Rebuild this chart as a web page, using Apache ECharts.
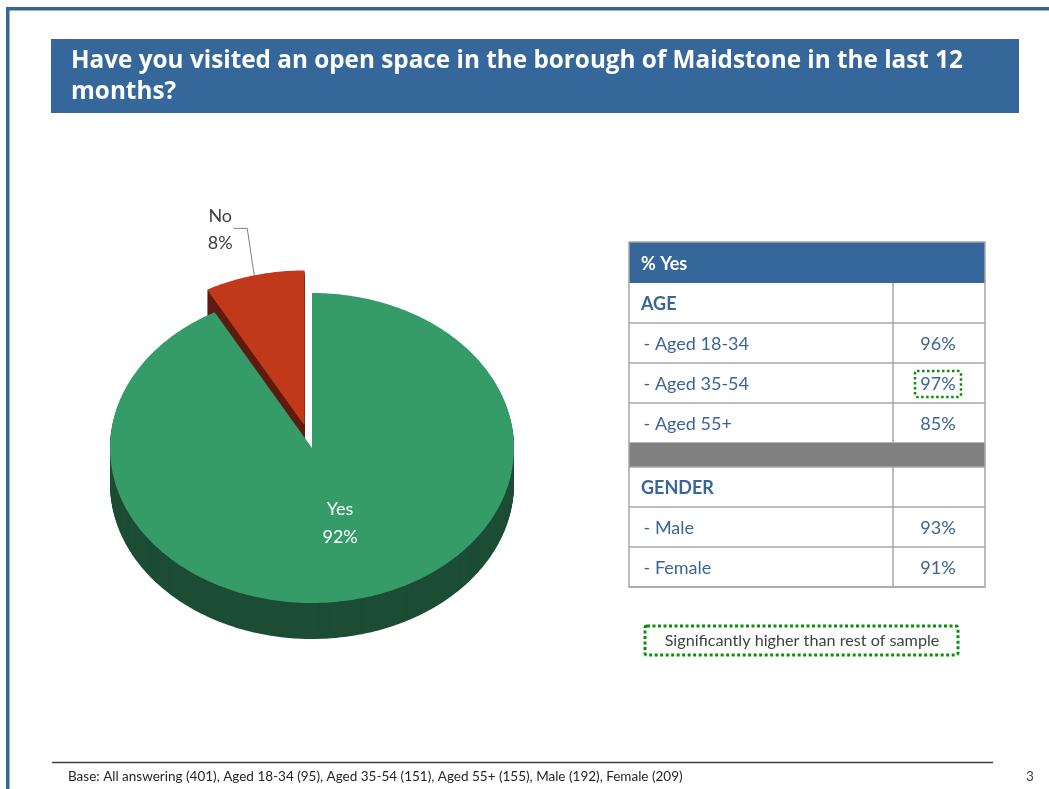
<!DOCTYPE html>
<html>
<head>
<meta charset="utf-8">
<title>Open space visits – Maidstone</title>
<script src="https://cdn.jsdelivr.net/npm/echarts@6/dist/echarts.min.js"></script>
<style>
  html, body { margin: 0; padding: 0; background: #ffffff; }
  #chart { width: 1049px; height: 789px; }
</style>
</head>
<body>
<div id="chart"></div>
<script>
// ---- data ----
const titleText = 'Have you visited an open space in the borough of Maidstone in the last 12\nmonths?';
const pieNames = ['Yes', 'No'];
const pieValues = [92, 8];

const tableHeader = '% Yes';
const ageHeading = 'AGE';
const ageLabels = [' - Aged 18-34', ' - Aged 35-54', ' - Aged 55+'];
const ageYes = [96, 97, 85];
const ageSignificant = [false, true, false];
const genderHeading = 'GENDER';
const genderLabels = [' - Male', ' - Female'];
const genderYes = [93, 91];
const genderSignificant = [false, false];

const legendText = 'Significantly higher than rest of sample';
const baseNote = 'Base: All answering (401), Aged 18-34 (95), Aged 35-54 (151), Aged 55+ (155), Male (192), Female (209)';
const pageNumber = '3';

// ---- styling ----
const BLUE = '#35679A';
const TEXT_BLUE = '#3A6598';
const GREEN_DOT = '#0C8E0C';
const FONT = 'Lato, "Open Sans", sans-serif';
const TITLE_FONT = '"Open Sans", Lato, sans-serif';

// pie geometry (tilted disc)
const PIE = { cx: 312, cy: 448, rx: 202, ry: 155, depth: 36 };
const sliceStyle = [
  { top: '#359B68', side: '#1D4D35', explode: 0, label: 'inside', labelColor: '#ffffff' },
  { top: '#C1391B', side: '#5E1B0F', explode: 0.15, label: 'outside', labelColor: '#404040' }
];

const total = pieValues.reduce((a, b) => a + b, 0);

function arcPoint(a, cx, cy, f) {
  return [cx + PIE.rx * f * Math.sin(a), cy - PIE.ry * f * Math.cos(a)];
}

function slicePolygon(a0, a1, cx, cy) {
  const pts = [[cx, cy]];
  const n = Math.max(4, Math.ceil((a1 - a0) / (Math.PI / 240)));
  for (let j = 0; j <= n; j++) {
    pts.push(arcPoint(a0 + (a1 - a0) * j / n, cx, cy, 1));
  }
  return pts;
}

function renderSlice(params, api) {
  const i = params.dataIndex;
  const v = api.value(0);
  let before = 0;
  for (let k = 0; k < i; k++) before += pieValues[k];
  const a0 = before / total * Math.PI * 2;
  const a1 = (before + v) / total * Math.PI * 2;
  const mid = (a0 + a1) / 2;
  const st = sliceStyle[i];
  const off = arcPoint(mid, 0, 0, st.explode);
  const cx = PIE.cx + off[0];
  const cy = PIE.cy + off[1];
  const base = i === 0 ? 100 : 0;

  const top = slicePolygon(a0, a1, cx, cy);
  const children = [];
  // extruded body: the top face swept down through the disc depth
  for (let s = PIE.depth; s >= 1; s--) {
    children.push({
      type: 'polygon',
      z2: base + 1,
      shape: { points: top.map(p => [p[0], p[1] + s]) },
      style: { fill: st.side }
    });
  }
  children.push({
    type: 'polygon',
    z2: base + 2,
    shape: { points: top },
    style: { fill: st.top }
  });

  const labelText = pieNames[i] + '\n' + v + '%';
  if (st.label === 'inside') {
    const p = arcPoint(mid, cx, cy, 0.5);
    children.push({
      type: 'text',
      z2: base + 3,
      x: p[0] + 3, y: p[1],
      style: {
        text: labelText, fill: st.labelColor, font: '18px ' + FONT,
        align: 'center', verticalAlign: 'middle', lineHeight: 28
      }
    });
  } else {
    const rim = arcPoint(mid, cx, cy, 1);
    const elbow = [rim[0] - 7, rim[1] - 47];
    const end = [elbow[0] - 14, elbow[1]];
    children.push({
      type: 'polyline',
      z2: base + 3,
      shape: { points: [rim, elbow, end] },
      style: { stroke: '#808080', lineWidth: 1, fill: null }
    });
    children.push({
      type: 'text',
      z2: base + 3,
      x: end[0] - 13, y: end[1] + 1,
      style: {
        text: labelText, fill: st.labelColor, font: '18px ' + FONT,
        align: 'center', verticalAlign: 'middle', lineHeight: 27
      }
    });
  }
  return { type: 'group', children };
}

// ---- table of % Yes by sub-group ----
function buildTable() {
  const L = 629, R = 985, SPLIT = 893;
  const HEAD_TOP = 242, HEAD_H = 41, ROW_H = 40, GAP_H = 24;
  const grid = '#A6A6A6';
  const els = [];
  const rows = [];
  rows.push({ kind: 'heading', text: ageHeading });
  ageLabels.forEach((t, i) => rows.push({ kind: 'item', text: t, value: ageYes[i], sig: ageSignificant[i] }));
  rows.push({ kind: 'gap' });
  rows.push({ kind: 'heading', text: genderHeading });
  genderLabels.forEach((t, i) => rows.push({ kind: 'item', text: t, value: genderYes[i], sig: genderSignificant[i] }));

  els.push({ type: 'rect', shape: { x: L, y: HEAD_TOP, width: R - L, height: HEAD_H }, style: { fill: BLUE } });
  els.push({
    type: 'text', x: L + 12, y: HEAD_TOP + HEAD_H / 2 + 2,
    style: { text: tableHeader, fill: '#ffffff', font: 'bold 18px ' + FONT, verticalAlign: 'middle' }
  });

  let y = HEAD_TOP + HEAD_H;
  rows.forEach(r => {
    const h = r.kind === 'gap' ? GAP_H : ROW_H;
    if (r.kind === 'gap') {
      els.push({ type: 'rect', shape: { x: L, y: y, width: R - L, height: h }, style: { fill: '#808080' } });
    } else {
      els.push({ type: 'line', shape: { x1: SPLIT, y1: y, x2: SPLIT, y2: y + h }, style: { stroke: grid, lineWidth: 1.5 } });
      if (r.kind === 'heading') {
        els.push({
          type: 'text', x: L + 12, y: y + h / 2 + 1,
          style: { text: r.text, fill: TEXT_BLUE, font: 'bold 18px ' + FONT, verticalAlign: 'middle' }
        });
      } else {
        els.push({
          type: 'text', x: L + 10, y: y + h / 2 + 1,
          style: { text: r.text, fill: TEXT_BLUE, font: '18px ' + FONT, verticalAlign: 'middle' }
        });
        const vx = (SPLIT + R) / 2 - 1;
        els.push({
          type: 'text', x: vx, y: y + h / 2 + 1,
          style: { text: r.value + '%', fill: TEXT_BLUE, font: '18px ' + FONT, align: 'center', verticalAlign: 'middle' }
        });
        if (r.sig) {
          els.push({
            type: 'rect', shape: { x: vx - 23, y: y + 8, width: 46, height: 26, r: 2 },
            style: { fill: null, stroke: GREEN_DOT, lineWidth: 2.5, lineDash: [2.5, 2.5] }
          });
        }
      }
    }
    els.push({ type: 'line', shape: { x1: L, y1: y + h, x2: R, y2: y + h }, style: { stroke: grid, lineWidth: 1.5 } });
    y += h;
  });
  // outer frame
  els.push({
    type: 'rect', shape: { x: L, y: HEAD_TOP, width: R - L, height: y - HEAD_TOP },
    style: { fill: null, stroke: grid, lineWidth: 1.5 }
  });
  return els;
}

const graphics = [
  // slide frame
  { type: 'rect', shape: { x: 6, y: 7, width: 1043, height: 3.5 }, style: { fill: BLUE } },
  { type: 'rect', shape: { x: 6, y: 7, width: 3.5, height: 782 }, style: { fill: BLUE } },
  // title banner
  { type: 'rect', shape: { x: 51, y: 39, width: 968, height: 74 }, style: { fill: BLUE } },
  {
    type: 'text', x: 71, y: 77,
    style: { text: titleText, fill: '#ffffff', font: 'bold 24.3px ' + TITLE_FONT, verticalAlign: 'middle', lineHeight: 31 }
  },
  ...buildTable(),
  // significance key
  {
    type: 'rect', shape: { x: 645, y: 626, width: 313, height: 29, r: 2 },
    style: { fill: null, stroke: GREEN_DOT, lineWidth: 3, lineDash: [3, 2.5] }
  },
  {
    type: 'text', x: 802, y: 641,
    style: { text: legendText, fill: '#404040', font: '16.2px ' + FONT, align: 'center', verticalAlign: 'middle' }
  },
  // footer
  { type: 'line', shape: { x1: 52, y1: 762.5, x2: 993, y2: 762.5 }, style: { stroke: '#404040', lineWidth: 1.5 } },
  {
    type: 'text', x: 68, y: 777,
    style: { text: baseNote, fill: '#262626', font: '13.5px ' + FONT, verticalAlign: 'middle' }
  },
  {
    type: 'text', x: 1030, y: 777,
    style: { text: pageNumber, fill: '#404040', font: '13.5px ' + FONT, align: 'center', verticalAlign: 'middle' }
  }
];

const chart = echarts.init(document.getElementById('chart'), null, { renderer: 'canvas' });
chart.setOption({
  backgroundColor: '#ffffff',
  animation: false,
  series: [{
    type: 'custom',
    coordinateSystem: 'none',
    silent: true,
    renderItem: renderSlice,
    data: pieValues.map((v, i) => ({ name: pieNames[i], value: [v] }))
  }],
  graphic: { elements: graphics }
});
</script>
</body>
</html>
